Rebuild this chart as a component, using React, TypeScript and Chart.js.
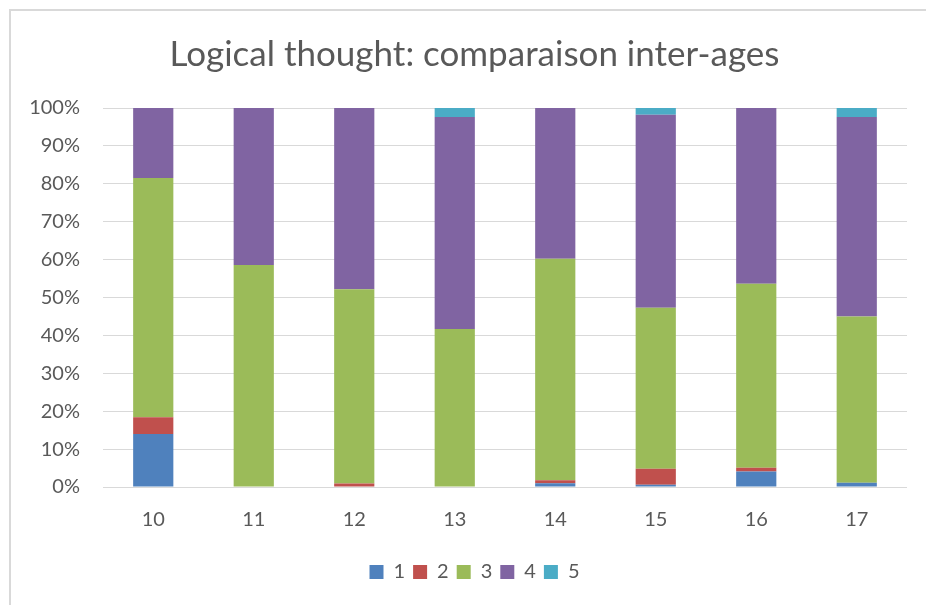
import React, { useEffect, useRef } from "react";
import { Chart, registerables } from "chart.js";

Chart.register(...registerables);

const ages = ["10", "11", "12", "13", "14", "15", "16", "17"];
const level1 = [14.0, 0, 0, 0, 1.0, 0.6, 4.1, 1.1];
const level2 = [4.4, 0, 0.9, 0, 0.8, 4.2, 1.0, 0];
const level3 = [63.1, 58.6, 51.3, 41.7, 58.4, 42.5, 48.5, 43.9];
const level4 = [18.5, 41.4, 47.8, 55.9, 39.8, 50.9, 46.4, 52.6];
const level5 = [0, 0, 0, 2.4, 0, 1.8, 0, 2.4];
const seriesNames = ["1", "2", "3", "4", "5"];
const seriesColors = ["#4F81BD", "#C0504D", "#9BBB59", "#8064A2", "#4BACC6"];
const yTicks = [0, 10, 20, 30, 40, 50, 60, 70, 80, 90, 100];
const titleText = "Logical thought: comparaison inter-ages";

const FONT = "Lato, 'Noto Sans', sans-serif";
const TEXT = "#595959";

// widen the y-axis label box to the canvas edge so labels are not clipped
const yLabelRoom = {
  id: "yLabelRoom",
  afterLayout(c: any) {
    const y = c.scales.y;
    y.left = 0;
    y.width = y.right;
  },
};

export default function App() {
  const ref = useRef<HTMLCanvasElement | null>(null);
  useEffect(() => {
    const prev = document.body.style.overflow;
    document.body.style.overflow = "hidden";
    const values = [level1, level2, level3, level4, level5];
    const chart = new Chart(ref.current as HTMLCanvasElement, {
      type: "bar",
      data: {
        labels: ages,
        datasets: values.map((v, i) => ({
          label: seriesNames[i],
          data: v,
          backgroundColor: seriesColors[i],
          borderWidth: 0,
          barPercentage: 0.4,
          categoryPercentage: 1,
        })),
      },
      plugins: [yLabelRoom],
      options: {
        animation: false,
        responsive: false,
        maintainAspectRatio: false,
        layout: { padding: { left: 42, right: 19, top: 0, bottom: 13 } },
        plugins: {
          title: {
            display: true,
            text: titleText,
            color: TEXT,
            font: { family: FONT, size: 35, weight: "normal", lineHeight: 1.2 },
            padding: { top: 34, bottom: 32 },
          },
          legend: {
            position: "bottom",
            labels: {
              color: TEXT,
              font: { family: FONT, size: 20 },
              boxWidth: 14,
              boxHeight: 14,
              padding: 8,
            },
          },
          tooltip: { enabled: false },
        },
        scales: {
          x: {
            stacked: true,
            grid: { display: false, drawTicks: false },
            border: { display: false },
            ticks: { color: TEXT, font: { family: FONT, size: 20 }, padding: 21 },
            afterFit: (s: any) => {
              s.height = 67;
            },
          },
          y: {
            stacked: true,
            min: 0,
            max: 100,
            afterBuildTicks: (s: any) => {
              s.ticks = yTicks.map((v) => ({ value: v }));
            },
            grid: { color: "#D9D9D9", lineWidth: 1, drawTicks: false },
            border: { display: false },
            ticks: {
              color: TEXT,
              font: { family: FONT, size: 20 },
              padding: 23,
              callback: (v: any) => v + "%",
            },
            afterFit: (s: any) => {
              s.width = 61;
            },
          },
        },
      },
    });
    return () => {
      chart.destroy();
      document.body.style.overflow = prev;
    };
  }, []);
  return (
    <div style={{ position: "fixed", left: 0, top: 0, width: 926, height: 605, overflow: "hidden", background: "#fff" }}>
      <div
        style={{
          position: "absolute",
          left: 9,
          top: 9,
          width: 1000,
          height: 1000,
          borderLeft: "2px solid #D9D9D9",
          borderTop: "2px solid #D9D9D9",
        }}
      />
      <canvas ref={ref} width={926} height={605} style={{ position: "absolute", left: 0, top: 0 }} />
    </div>
  );
}
